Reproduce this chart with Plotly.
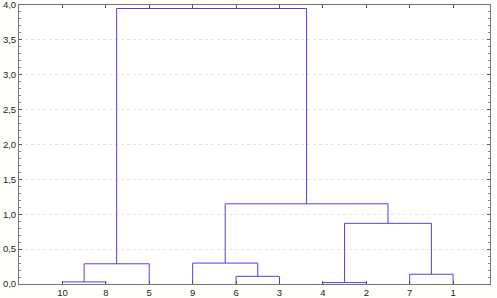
import plotly.graph_objects as go

# leaf order as displayed along the x axis
leaf_labels = ["10", "8", "5", "9", "6", "3", "4", "2", "7", "1"]

# merges: (left member, right member, linkage distance); members are leaf labels or merge names
merge_names = ["A", "B", "C", "D", "E", "F", "G", "H", "I"]
merge_left = ["10", "A", "6", "9", "4", "7", "E", "D", "B"]
merge_right = ["8", "5", "3", "C", "2", "1", "F", "G", "H"]
merge_height = [0.03, 0.29, 0.11, 0.30, 0.02, 0.14, 0.87, 1.15, 3.95]

# y axis tick values
y_ticks = [0, 0.5, 1.0, 1.5, 2.0, 2.5, 3.0, 3.5, 4.0]

pos = {lab: i + 1 for i, lab in enumerate(leaf_labels)}
hgt = {lab: 0.0 for lab in leaf_labels}

fig = go.Figure()
line_color = "#4646e0"
for name, l, r, h in zip(merge_names, merge_left, merge_right, merge_height):
    xl, xr = pos[l], pos[r]
    fig.add_trace(go.Scatter(
        x=[xl, xl, xr, xr], y=[hgt[l], h, h, hgt[r]],
        mode="lines", line=dict(color=line_color, width=1),
        hoverinfo="skip", showlegend=False))
    pos[name] = (xl + xr) / 2
    hgt[name] = h

fig.update_layout(
    width=497, height=298,
    margin=dict(l=19, r=7, t=5, b=14),
    paper_bgcolor="#fffffc", plot_bgcolor="white",
    separators=", ",
    font=dict(family="Liberation Sans, Arial, sans-serif", size=9, color="#222222"),
    showlegend=False,
)
fig.update_xaxes(
    range=[0, 10.85], tickvals=list(range(1, 11)), ticktext=leaf_labels,
    showgrid=False, zeroline=False, showline=True, linecolor="#777777", linewidth=1,
    mirror="allticks", ticks="inside", ticklen=3, tickcolor="#555555",
    tickfont=dict(size=9.5), fixedrange=True, automargin=False,
    ticklabeloverflow="allow",
)
fig.update_yaxes(
    range=[0, 4.0], tickvals=y_ticks, tickformat=".1f",
    showgrid=True, gridcolor="#e4e4e4", griddash="dot", gridwidth=1,
    zeroline=False, showline=True, linecolor="#777777", linewidth=1,
    mirror="allticks", ticks="inside", ticklen=3, tickcolor="#555555",
    minor=dict(ticks="inside", ticklen=2, dtick=0.1, tickcolor="#888888", showgrid=False),
    tickfont=dict(size=9.5), fixedrange=True, automargin=False,
    ticklabeloverflow="allow",
)

fig.write_html(
    "out.html",
    config={"displayModeBar": False, "staticPlot": True},
    post_script="document.body.style.margin='0';document.body.style.overflow='hidden';",
)
